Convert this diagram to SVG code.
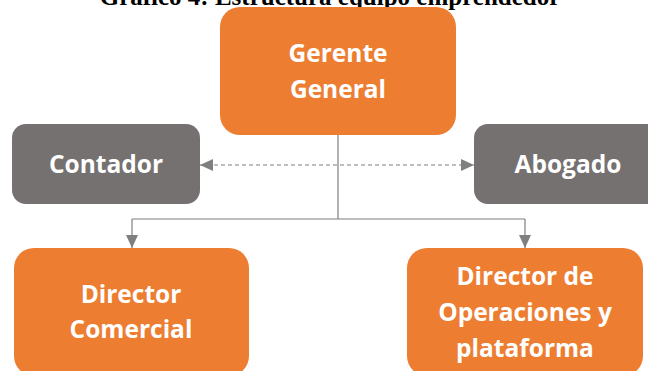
<svg xmlns="http://www.w3.org/2000/svg" width="648" height="371" viewBox="0 0 648 371">
  <style>
    .title { font-family: "Liberation Serif", "Times New Roman", serif; font-weight: bold; font-size: 25px; fill: #000; }
    .orange { fill: #ED7D31; }
    .gray { fill: #767171; }
    .lbl { font-family: "Open Sans", "Liberation Sans", sans-serif; font-weight: bold; font-size: 24.5px; fill: #FFFFFF; text-anchor: middle; }
    .conn { fill: none; stroke: #7F7F7F; stroke-width: 1.2; }
    .dash { fill: none; stroke: #7F7F7F; stroke-width: 1.2; stroke-dasharray: 4 3; }
  </style>
  <defs>
    <marker id="arr" viewBox="0 0 13 12" refX="13" refY="6" markerWidth="13" markerHeight="12" markerUnits="userSpaceOnUse" orient="auto-start-reverse">
      <path d="M0,0 L13,6 L0,12 Z" fill="#7F7F7F"/>
    </marker>
  </defs>
  <rect width="648" height="371" fill="#FFFFFF"/>
  <text class="title" x="330" y="5" text-anchor="middle">Gráfico 4: Estructura equipo emprendedor</text>

  <g id="connectors">
    <path class="conn" d="M338,135 L338,219"/>
    <path class="conn" d="M132,219 L525,219"/>
    <path class="conn" d="M132,219 L132,248" marker-end="url(#arr)"/>
    <path class="conn" d="M525,219 L525,248" marker-end="url(#arr)"/>
    <path class="dash" d="M200,165 L474,165" marker-start="url(#arr)" marker-end="url(#arr)"/>
  </g>

  <g id="gerente">
    <rect class="orange" x="220" y="7" width="236" height="128" rx="20"/>
    <text class="lbl" x="338" y="62">Gerente</text>
    <text class="lbl" x="338" y="98">General</text>
  </g>
  <g id="contador">
    <rect class="gray" x="12" y="124" width="188" height="80" rx="14"/>
    <text class="lbl" x="106" y="173">Contador</text>
  </g>
  <g id="abogado">
    <rect class="gray" x="474" y="124" width="188" height="80" rx="14"/>
    <text class="lbl" x="568" y="173">Abogado</text>
  </g>
  <g id="director-comercial">
    <rect class="orange" x="14" y="248" width="235" height="128" rx="20"/>
    <text class="lbl" x="131" y="303">Director</text>
    <text class="lbl" x="131" y="338">Comercial</text>
  </g>
  <g id="director-operaciones">
    <rect class="orange" x="407" y="248" width="236" height="128" rx="20"/>
    <text class="lbl" x="525" y="285">Director de</text>
    <text class="lbl" x="525" y="321">Operaciones y</text>
    <text class="lbl" x="525" y="357">plataforma</text>
  </g>
</svg>
